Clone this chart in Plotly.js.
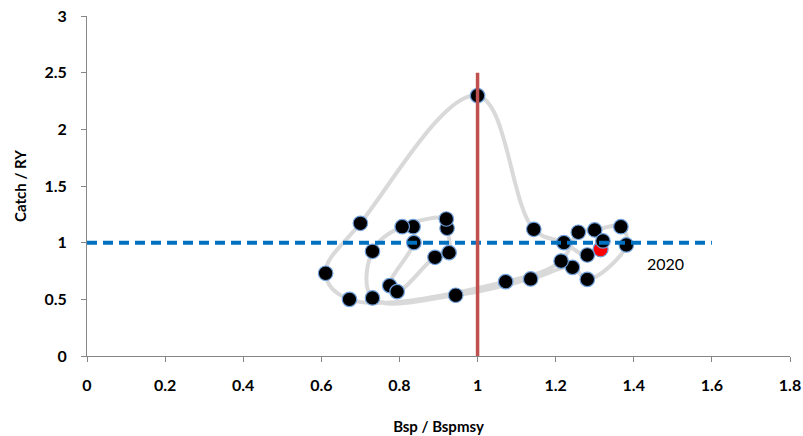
<!DOCTYPE html>
<html>
<head>
<meta charset="utf-8">
<script src="https://cdn.plot.ly/plotly-3.0.1.min.js"></script>
<style>
  html, body { margin: 0; padding: 0; background: #ffffff; }
  #chart { width: 803px; height: 436px; }
</style>
</head>
<body>
<div id="chart"></div>
<script>
// Years of the trajectory (1991 .. 2020)
var years = [1991,1992,1993,1994,1995,1996,1997,1998,1999,2000,
             2001,2002,2003,2004,2005,2006,2007,2008,2009,2010,
             2011,2012,2013,2014,2015,2016,2017,2018,2019,2020];
// Bsp / Bspmsy
var bRatio = [0.835,0.837,0.775,0.794,0.891,0.927,0.922,0.920,0.807,0.731,
              0.731,0.944,1.136,1.243,1.281,1.381,1.367,1.300,1.258,1.214,
              1.072,0.672,0.611,0.700,1.000,1.144,1.221,1.281,1.321,1.315];
// Catch / RY
var cRatio = [1.141,1.000,0.621,0.568,0.871,0.912,1.127,1.209,1.141,0.924,
              0.512,0.536,0.680,0.782,0.676,0.980,1.141,1.112,1.092,0.838,
              0.656,0.500,0.730,1.171,2.297,1.118,1.000,0.891,1.015,0.941];

// Reference lines
var refBx = [1, 1];       // Bsp/Bspmsy = 1
var refBy = [0, 2.5];
var refCx = [0, 1.6];     // Catch/RY = 1
var refCy = [1, 1];

var lastLabel = "2020";
var xTicks = [0,0.2,0.4,0.6,0.8,1,1.2,1.4,1.6,1.8];
var xTickText = ["0","0.2","0.4","0.6","0.8","1","1.2","1.4","1.6","1.8"];
var yTicks = [0,0.5,1,1.5,2,2.5,3];
var yTickText = ["0","0.5","1","1.5","2","2.5","3"];

var n = bRatio.length;
var font = "Lato, 'Open Sans', 'DejaVu Sans', sans-serif";

var traces = [
  { // trajectory line
    x: bRatio, y: cRatio, mode: "lines", type: "scatter",
    line: { color: "#D9D9D9", width: 4, shape: "spline", smoothing: 1.1 },
    hoverinfo: "skip", showlegend: false
  },
  { // last year (red)
    x: [bRatio[n-1]], y: [cRatio[n-1]], mode: "markers", type: "scatter",
    marker: { color: "#FF0000", size: 15, line: { color: "#6FA0DC", width: 1.2 } },
    showlegend: false
  },
  { // other years
    x: bRatio.slice(0, n-1), y: cRatio.slice(0, n-1), mode: "markers", type: "scatter",
    text: years.slice(0, n-1),
    marker: { color: "#000000", size: 14.5, line: { color: "#6FA0DC", width: 1.2 } },
    showlegend: false
  },
  { // Catch/RY = 1
    x: refCx, y: refCy, mode: "lines", type: "scatter",
    line: { color: "#0070C0", width: 4, dash: "10px,6px" },
    showlegend: false
  },
  { // B/Bmsy = 1
    x: refBx, y: refBy, mode: "lines", type: "scatter",
    line: { color: "#C0504D", width: 3.5 },
    showlegend: false
  }
];

var layout = {
  width: 803, height: 436,
  margin: { l: 87, r: 13, t: 16, b: 80 },
  paper_bgcolor: "#ffffff", plot_bgcolor: "#ffffff",
  showlegend: false,
  font: { family: font, color: "#000000" },
  xaxis: {
    range: [0, 1.8], tickvals: xTicks, ticktext: xTickText,
    showgrid: false, zeroline: false,
    showline: true, linecolor: "#868686", linewidth: 1,
    ticks: "outside", ticklen: 5, tickcolor: "#868686",
    ticklabelstandoff: 10,
    tickfont: { family: font, size: 16, color: "#000000", weight: "bold" },
    title: { text: "Bsp / Bspmsy", standoff: 28,
             font: { family: font, size: 15, color: "#000000", weight: "bold" } }
  },
  yaxis: {
    range: [0, 3], tickvals: yTicks, ticktext: yTickText,
    showgrid: false, zeroline: false,
    showline: true, linecolor: "#868686", linewidth: 1,
    ticks: "outside", ticklen: 5, tickcolor: "#868686",
    ticklabelstandoff: 11,
    tickfont: { family: font, size: 16, color: "#000000", weight: "bold" },
    title: { text: "Catch / RY", standoff: 14,
             font: { family: font, size: 15, color: "#000000", weight: "bold" } }
  },
  annotations: [{
    x: 1.482, y: 0.812, xref: "x", yref: "y",
    text: lastLabel, showarrow: false,
    font: { family: font, size: 16, color: "#000000" }
  }]
};

Plotly.newPlot("chart", traces, layout, { displayModeBar: false, staticPlot: true });
</script>
</body>
</html>
